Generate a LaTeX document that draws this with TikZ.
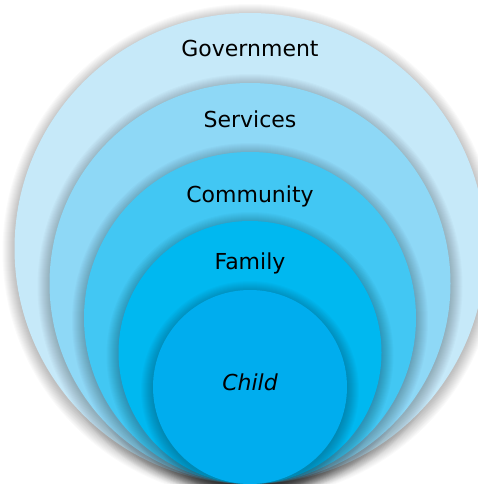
\documentclass[tikz,border=0pt]{standalone}
\usepackage{fontspec}
\setmainfont{DejaVu Sans}
\definecolor{cgov}{HTML}{C6E9F9}
\definecolor{cser}{HTML}{8ED8F6}
\definecolor{ccom}{HTML}{42C7F3}
\definecolor{cfam}{HTML}{00B8F0}
\definecolor{cchi}{HTML}{00ADEE}
\newcommand\ringdisk[4]{%
  \foreach \k in {1,...,13}{\fill[shadowlayer] (#1,#2+3) circle[radius={#3+\k*1.0-1}];}
  \fill[#4] (#1,#2) circle[radius=#3];}
\begin{document}
\begin{tikzpicture}[x=1pt,y=-1pt,
  shadowlayer/.style={black,opacity=0.02},
  lbl/.style={font=\fontsize{22}{26}\selectfont, anchor=base, inner sep=0pt}]
\useasboundingbox (0,0) rectangle (478,484);
\fill[white] (0,0) rectangle (478,484);
\ringdisk{250}{248.5}{235.5}{cgov}
\ringdisk{250}{283.5}{200.5}{cser}
\ringdisk{250}{318}{166}{ccom}
\ringdisk{250}{352.5}{131.5}{cfam}
\ringdisk{250}{387}{97}{cchi}
\node[lbl] (gov) at (250,57) {Government};
\node[lbl] (ser) at (250,128) {Services};
\node[lbl] (com) at (250,202) {Community};
\node[lbl] (fam) at (250,269) {Family};
\node[lbl] (chi) at (250,390) {\itshape Child};
\end{tikzpicture}
\end{document}
